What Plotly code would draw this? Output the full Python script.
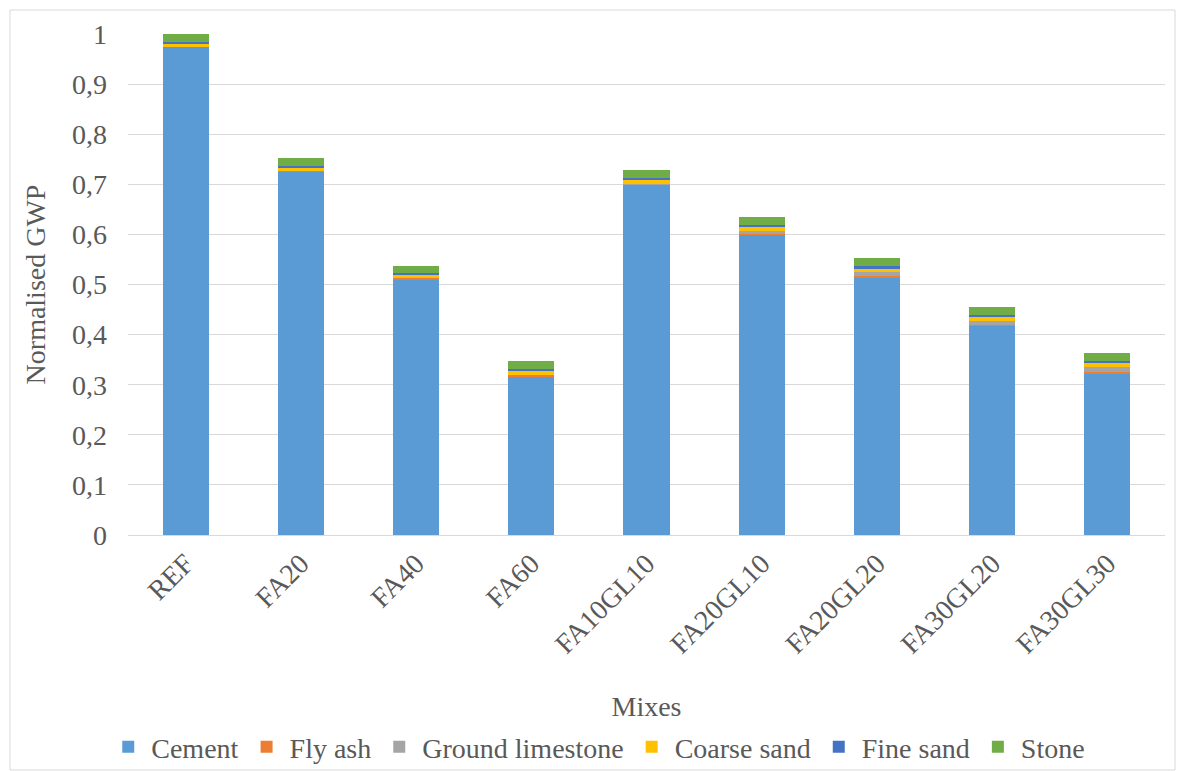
import plotly.graph_objects as go

mixes = ["REF", "FA20", "FA40", "FA60", "FA10GL10", "FA20GL10", "FA20GL20", "FA30GL20", "FA30GL30"]

cement = [0.974, 0.726, 0.510, 0.317, 0.699, 0.599, 0.514, 0.419, 0.323]
fly_ash = [0.000, 0.001, 0.002, 0.003, 0.001, 0.002, 0.003, 0.001, 0.003]
ground_limestone = [0.000, 0.000, 0.000, 0.000, 0.001, 0.006, 0.008, 0.007, 0.009]
coarse_sand = [0.006, 0.007, 0.007, 0.007, 0.007, 0.008, 0.006, 0.008, 0.008]
fine_sand = [0.004, 0.003, 0.004, 0.005, 0.004, 0.004, 0.005, 0.005, 0.005]
stone = [0.016, 0.015, 0.014, 0.015, 0.016, 0.015, 0.016, 0.015, 0.015]

y_ticks = [0, 0.1, 0.2, 0.3, 0.4, 0.5, 0.6, 0.7, 0.8, 0.9, 1]

series = [
    ("Cement", cement, "#5B9BD5"),
    ("Fly ash", fly_ash, "#ED7D31"),
    ("Ground limestone", ground_limestone, "#A5A5A5"),
    ("Coarse sand", coarse_sand, "#FFC000"),
    ("Fine sand", fine_sand, "#4472C4"),
    ("Stone", stone, "#70AD47"),
]

FONT = "Liberation Serif, Times New Roman, serif"
TEXT = "#595959"
FS = 28

fig = go.Figure()
for name, vals, color in series:
    fig.add_trace(go.Bar(
        name=name, x=mixes, y=vals,
        marker=dict(color=color, line=dict(width=0)),
    ))

fig.update_layout(
    barmode="stack",
    bargap=0.6,
    width=1178, height=771,
    margin=dict(l=128, r=13, t=34, b=236, autoexpand=False),
    paper_bgcolor="white",
    plot_bgcolor="white",
    separators=", ",
    font=dict(family=FONT, color=TEXT, size=FS),
    showlegend=True,
    legend=dict(
        orientation="h", x=0.453, xanchor="center",
        yref="container", y=(771 - 747) / 771, yanchor="middle",
        bgcolor="rgba(0,0,0,0)",
        font=dict(family=FONT, size=FS, color=TEXT),
        traceorder="normal", itemwidth=36, tracegroupgap=0,
    ),
    xaxis=dict(
        tickangle=-45,
        tickfont=dict(family=FONT, size=FS, color=TEXT),
        showline=True, linecolor="#d9d9d9", linewidth=1,
        showgrid=False, ticks="",
        automargin=False,
        title=dict(text="Mixes", font=dict(family=FONT, size=FS, color=TEXT), standoff=40),
    ),
    yaxis=dict(
        range=[0, 1], tickvals=y_ticks,
        tickfont=dict(family=FONT, size=FS, color=TEXT),
        showgrid=True, gridcolor="#d9d9d9", gridwidth=1,
        zeroline=False, showline=False, ticks="",
        ticklabelstandoff=20,
        automargin=False,
        title=dict(text="Normalised GWP", font=dict(family=FONT, size=FS, color=TEXT), standoff=18),
    ),
)

# thin chart-area frame around the whole figure
fig.add_shape(
    type="rect", xref="paper", yref="paper",
    x0=(10 - 128) / 1037, x1=(1175 - 128) / 1037,
    y0=(535 - 770) / 501, y1=(535 - 10) / 501,
    line=dict(color="#d9d9d9", width=1), fillcolor="rgba(0,0,0,0)", layer="below",
)

fig.write_html("out.html")
